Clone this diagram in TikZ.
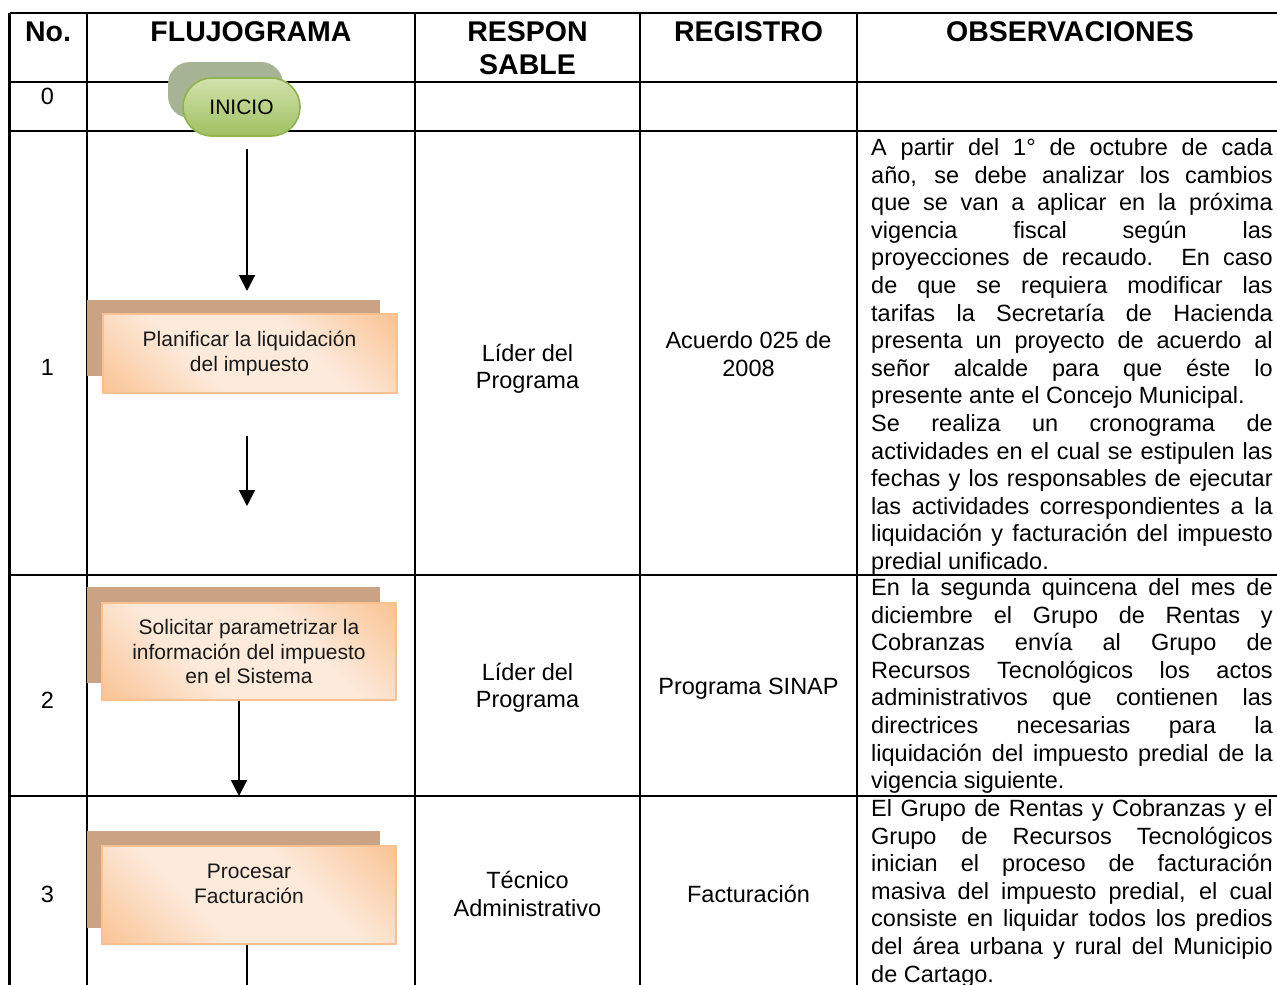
\documentclass[tikz,border=0pt]{standalone}
\usepackage{fontspec}
\setmainfont{Liberation Sans}
\usetikzlibrary{arrows.meta}
\definecolor{grnA}{HTML}{D2E2AC}
\definecolor{grnB}{HTML}{A0C062}
\definecolor{grnedge}{HTML}{8FB34E}
\definecolor{grnback}{HTML}{A6B394}
\definecolor{brback}{HTML}{C9A384}
\definecolor{orA}{HTML}{F9BF8C}
\definecolor{orB}{HTML}{FDEADB}
\definecolor{oredge}{HTML}{FAC090}
\pgfdeclarehorizontalshading{orband}{100bp}{color(0bp)=(orA); color(12bp)=(orA); color(38bp)=(orB); color(62bp)=(orB); color(88bp)=(orA); color(100bp)=(orA)}
\newcommand\clines[1]{\vtop{\halign{\hfil##\hfil\cr#1\crcr}}}
\newcommand\jl[1]{\hbox to 401.5pt{#1}}
\tikzset{
 hdr/.style={font=\fontsize{28.5}{32.5}\selectfont\bfseries, inner sep=0pt, anchor=base},
 body/.style={font=\fontsize{23.5}{27.6}\selectfont, inner sep=0pt, anchor=base},
 boxtxt/.style={font=\fontsize{21}{24.5}\selectfont, inner sep=0pt, anchor=base, text=black!90},
 grid/.style={line width=2.3pt, black},
 arr/.style={line width=2pt, -{Triangle[length=16pt,width=16pt]}},
 backbox/.style={fill=brback, draw=none, inner sep=0pt, minimum width=293pt},
 frontbox/.style={draw=oredge, line width=2pt, shade, shading=orband, shading angle=45, inner sep=0pt, minimum width=294pt},
}
\begin{document}
\begin{tikzpicture}[x=1pt,y=-1pt]
\useasboundingbox (0,0) rectangle (1277,985);
% table grid
\draw[grid] (9.5,13) -- (1290,13);
\draw[grid] (9.5,82) -- (1290,82);
\draw[grid] (9.5,131) -- (1290,131);
\draw[grid] (9.5,575) -- (1290,575);
\draw[grid] (9.5,796) -- (1290,796);
\foreach \x in {9.5,87,415,640,857} \draw[grid] (\x,13) -- (\x,1000);
% headers
\node[hdr] (hno) at (48,41.5) {No.};
\node[hdr] (hflu) at (251,41.5) {FLUJOGRAMA};
\node[hdr] (hres) at (527.5,41.5) {\clines{RESPON\cr SABLE}};
\node[hdr] (hreg) at (748.5,41.5) {REGISTRO};
\node[hdr] (hobs) at (1070,41.5) {OBSERVACIONES};
% row numbers
\node[body] (n0) at (47.5,104) {0};
\node[body] (n1) at (47.5,375.5) {1};
\node[body] (n2) at (47.5,708.5) {2};
\node[body] (n3) at (47.5,902.5) {3};
% responsable
\node[body] (r1) at (527.5,361) {\clines{Líder del\cr Programa}};
\node[body] (r2) at (527.5,680) {\clines{Líder del\cr Programa}};
\node[body] (r3) at (527.5,888.5) {\clines{Técnico\cr Administrativo}};
% registro
\node[body] (g1) at (748.5,348.5) {\clines{Acuerdo 025 de\cr 2008}};
\node[body] (g2) at (748.5,694) {Programa SINAP};
\node[body] (g3) at (748.5,902) {Facturación};
% observaciones
\node[body, anchor=base west] (o1) at (871,155.5) {\vtop{%
\jl{A partir del 1° de octubre de cada}
\jl{año, se debe analizar los cambios}
\jl{que se van a aplicar en la próxima}
\jl{vigencia fiscal según las}
\jl{proyecciones de recaudo.  En caso}
\jl{de que se requiera modificar las}
\jl{tarifas la Secretaría de Hacienda}
\jl{presenta un proyecto de acuerdo al}
\jl{señor alcalde para que éste lo}
\hbox{presente ante el Concejo Municipal.}
\jl{Se realiza un cronograma de}
\jl{actividades en el cual se estipulen las}
\jl{fechas y los responsables de ejecutar}
\jl{las actividades correspondientes a la}
\jl{liquidación y facturación del impuesto}
\hbox{predial unificado.}}};
\node[body, anchor=base west] (o2) at (871,595.5) {\vtop{%
\jl{En la segunda quincena del mes de}
\jl{diciembre el Grupo de Rentas y}
\jl{Cobranzas envía al Grupo de}
\jl{Recursos Tecnológicos los actos}
\jl{administrativos que contienen las}
\jl{directrices necesarias para la}
\jl{liquidación del impuesto predial de la}
\hbox{vigencia siguiente.}}};
\node[body, anchor=base west] (o3) at (871,816.5) {\vtop{%
\jl{El Grupo de Rentas y Cobranzas y el}
\jl{Grupo de Recursos Tecnológicos}
\jl{inician el proceso de facturación}
\jl{masiva del impuesto predial, el cual}
\jl{consiste en liquidar todos los predios}
\jl{del área urbana y rural del Municipio}
\hbox{de Cartago.}}};
% INICIO terminator
\node[fill=grnback, rounded corners=22pt, minimum width=115pt, minimum height=56pt, inner sep=0pt] (ib) at (225.5,90) {};
\node[draw=grnedge, line width=1.6pt, top color=grnA, bottom color=grnB, rounded corners=28.9pt, minimum width=117pt, minimum height=58pt, inner sep=0pt, font=\fontsize{21}{24}\selectfont] (inicio) at (241.5,107) {INICIO};
% process boxes
\node[backbox, minimum height=76pt] (b1) at (233.5,338) {};
\node[frontbox, minimum height=79pt] (f1) at (249.5,353.5) {};
\node[boxtxt] (t1) at (249.5,346.5) {\clines{Planificar la liquidación\cr del impuesto}};
\node[backbox, minimum height=96pt] (b2) at (233.5,635) {};
\node[frontbox, minimum height=97pt] (f2) at (249,651.5) {};
\node[boxtxt] (t2) at (249,634.5) {\clines{Solicitar parametrizar la\cr información del impuesto\cr en el Sistema}};
\node[backbox, minimum height=97pt] (b3) at (233.5,879.5) {};
\node[frontbox, minimum height=98pt] (f3) at (249,895) {};
\node[boxtxt] (t3) at (249,878.5) {\clines{Procesar\cr Facturación}};
% connectors
\coordinate (a1s) at (247,149);
\coordinate (a1e) at (247,291);
\coordinate (a2s) at (247,436);
\coordinate (a2e) at (247,506);
\coordinate (a3e) at (239,796);
\coordinate (a4e) at (247,1000);
\draw[arr] (a1s) -- (a1e);
\draw[arr] (a2s) -- (a2e);
\draw[arr] (f2.south -| a3e) -- (a3e);
\draw[line width=2pt] (f3.south -| a4e) -- (a4e);
\end{tikzpicture}
\end{document}
